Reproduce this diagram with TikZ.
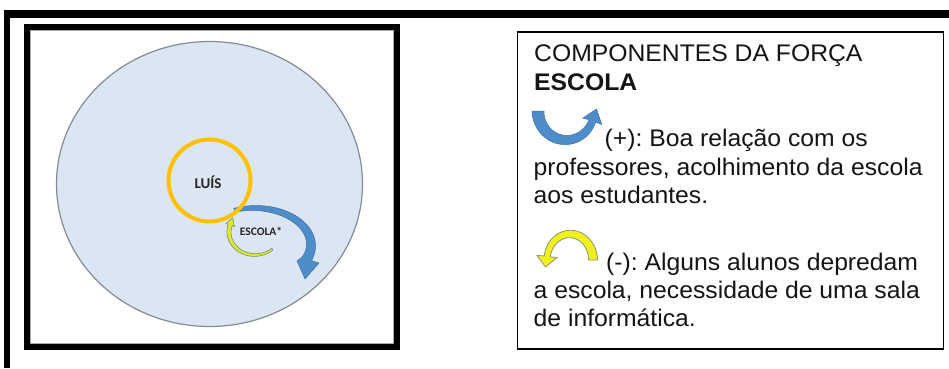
\documentclass[tikz,border=0pt]{standalone}
\usepackage{fontspec}
\setmainfont[FakeStretch=1.03]{Liberation Sans}
\newfontfamily\calib{Carlito}
\usetikzlibrary{shapes.geometric}
\definecolor{bgblue}{RGB}{220,230,242}
\definecolor{circedge}{RGB}{130,140,152}
\definecolor{orng}{RGB}{255,192,0}
\definecolor{arrblue}{RGB}{78,140,202}
\definecolor{arrblueedge}{RGB}{62,112,168}
\definecolor{yel}{RGB}{228,232,30}
\definecolor{yeledge}{RGB}{110,140,150}
\definecolor{iconyel}{RGB}{240,240,30}
\definecolor{iconyeledge}{RGB}{140,150,115}
\definecolor{txtcol}{RGB}{20,20,20}
\tikzset{
  txt/.style={inner sep=0pt, anchor=base west, text=txtcol, font=\fontsize{24}{28}\selectfont},
  lbl/.style={inner sep=0pt, text=black!85, font=\calib\bfseries\fontsize{15}{16}\selectfont},
  slbl/.style={inner sep=0pt, text=black!85, font=\calib\bfseries\fontsize{11.5}{13}\selectfont},
}
\begin{document}
\frenchspacing
\begin{tikzpicture}[x=1pt,y=1pt]
\useasboundingbox (0,0) rectangle (949,368);
% outer frame
\fill[black] (3.5,0) rectangle (9.5,358);
\fill[black] (3.5,350) rectangle (949,358);
% inner left box
\draw[line width=6pt] (27,21) rectangle (397,341);
\draw[black!35, line width=0.8pt] (30.5,24.5) rectangle (393.5,337.5);
% right box
\draw[line width=1.2pt] (517.5,19) rectangle (943.5,336);
% big ellipse
\node[ellipse, draw=circedge, fill=bgblue, line width=1.2pt, minimum width=306pt, minimum height=285pt, inner sep=0pt] (big) at (209.5,184) {};
% blue arrow
\fill[arrblue, draw=arrblueedge, line width=0.5pt]
  plot[domain=110:-22, samples=60, variable=\t] ({254+(57+0.5*(4+6*(110-\t)/132))*cos(\t)}, {123+(37+0.5*(4+6*(110-\t)/132))*sin(\t)})
  -- (319,105) -- (305,89) -- (297,107)
  -- plot[domain=-22:110, samples=60, variable=\t] ({254+(57-0.5*(4+6*(110-\t)/132))*cos(\t)}, {123+(37-0.5*(4+6*(110-\t)/132))*sin(\t)})
  -- cycle;
% Luis circle
\node[circle, draw=orng, line width=4pt, minimum size=82pt, inner sep=0pt] (luis) at (209.5,187.5) {};
\node[lbl] (luistxt) at (208,186) {LUÍS};
% yellow arrow
\fill[yel, draw=yeledge, line width=0.6pt]
  plot[domain=-48:-198, samples=50, variable=\t] ({255+(26+0.5*(2+2.5*(-48-\t)/150))*cos(\t)}, {136+(23+0.5*(2+2.5*(-48-\t)/150))*sin(\t)})
  -- (226.1,144.6) -- (232.7,150) -- (234.5,141.6)
  -- plot[domain=-198:-48, samples=50, variable=\t] ({255+(26-0.5*(2+2.5*(-48-\t)/150))*cos(\t)}, {136+(23-0.5*(2+2.5*(-48-\t)/150))*sin(\t)})
  -- cycle;
\node[slbl] (escola) at (261,137) {ESCOLA*};
% legend blue icon
\fill[arrblue, draw=arrblueedge, line width=0.5pt]
  plot[domain=180:340, samples=50, variable=\t] ({566+(28+0.5*(12-5*(\t-180)/160))*cos(\t)}, {257+(29+0.5*(12-5*(\t-180)/160))*sin(\t)})
  -- (601.8,243.5) -- (596.5,259) -- (582.8,249.9)
  -- plot[domain=340:180, samples=50, variable=\t] ({566+(28-0.5*(12-5*(\t-180)/160))*cos(\t)}, {257+(29-0.5*(12-5*(\t-180)/160))*sin(\t)})
  -- cycle;
% legend yellow icon
\fill[iconyel, draw=iconyeledge, line width=0.8pt]
  plot[domain=0:172, samples=50, variable=\t] ({570+(23+0.5*(9-3*\t/172))*cos(\t)}, {108+(26+0.5*(9-3*\t/172))*sin(\t)})
  -- (537,112.5) -- (545.5,101) -- (557,110.5)
  -- plot[domain=172:0, samples=50, variable=\t] ({570+(23-0.5*(9-3*\t/172))*cos(\t)}, {108+(26-0.5*(9-3*\t/172))*sin(\t)})
  -- cycle;
% legend texts
\node[txt] (t1) at (534,306.3) {COMPONENTES DA FORÇA};
\node[txt, font=\bfseries\fontsize{24}{28}\selectfont] (t2) at (534,278) {ESCOLA};
\node[txt] (t3) at (604.5,221.5) {(+): Boa relação com os};
\node[txt] (t4) at (533.5,193) {professores, acolhimento da escola};
\node[txt] (t5) at (533.5,164.5) {aos estudantes.};
\node[txt] (t6) at (606,98) {(-): Alguns alunos depredam};
\node[txt] (t7) at (533.5,69.7) {a escola, necessidade de uma sala};
\node[txt] (t8) at (533.5,42) {de informática.};
\end{tikzpicture}
\end{document}
